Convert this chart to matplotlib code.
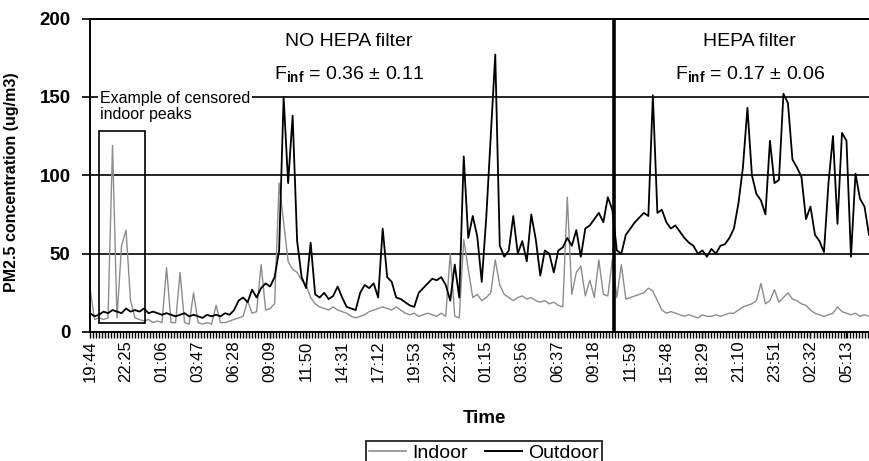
import matplotlib.pyplot as plt
import matplotlib.patches as patches
from matplotlib.lines import Line2D
import numpy as np

plt.rcParams['font.family'] = ['Liberation Sans', 'DejaVu Sans']
plt.rcParams['mathtext.fontset'] = 'custom'
plt.rcParams['mathtext.rm'] = 'Liberation Sans'
plt.rcParams['mathtext.bf'] = 'Liberation Sans:bold'

# Time labels (every 8th sample on the category axis)
time_labels = ['19:44', '22:25', '01:06', '03:47', '06:28', '09:09', '11:50',
               '14:31', '17:12', '19:53', '22:34', '01:15', '03:56', '06:37',
               '09:18', '11:59', '15:48', '18:29', '21:10', '23:51', '02:32',
               '05:13']
label_step = 8

# PM2.5 outdoor (ug/m3)
outdoor = [
    12, 10, 11, 13, 12, 14, 13, 12, 15, 13,
    14, 13, 15, 12, 13, 12, 11, 12, 11, 10,
    11, 12, 10, 11, 10, 9, 11, 10, 11, 10,
    12, 11, 14, 20, 22, 19, 27, 22, 28, 31,
    29, 35, 52, 150, 95, 138, 58, 35, 28, 57,
    24, 22, 25, 21, 23, 29, 22, 16, 15, 14,
    25, 30, 28, 31, 22, 66, 35, 32, 22, 21,
    19, 17, 16, 25, 28, 31, 34, 33, 35, 30,
    20, 43, 22, 112, 60, 74, 61, 32, 73, 125,
    177, 55, 48, 52, 74, 50, 58, 45, 75, 59,
    36, 52, 50, 38, 52, 54, 60, 55, 65, 48,
    66, 68, 72, 76, 70, 86, 78, 52, 50, 62,
    66, 70, 73, 76, 74, 151, 76, 78, 70, 66,
    68, 64, 60, 57, 55, 50, 52, 48, 53, 50,
    55, 56, 60, 66, 82, 105, 143, 100, 88, 84,
    75, 122, 95, 97, 152, 146, 110, 105, 99, 72,
    80, 62, 58, 51, 95, 125, 69, 127, 122, 48,
    101, 85, 80, 62,
]

# PM2.5 indoor (ug/m3)
indoor = [
    28, 8, 9, 8, 9, 119, 9, 55, 65, 20,
    9, 8, 7, 8, 6, 7, 6, 41, 6, 6,
    38, 6, 5, 25, 6, 5, 6, 5, 17, 6,
    6, 7, 8, 9, 10, 20, 12, 13, 43, 14,
    15, 18, 95, 70, 45, 40, 38, 33, 30, 22,
    18, 16, 15, 14, 16, 14, 13, 12, 10, 9,
    10, 11, 13, 14, 15, 16, 15, 14, 16, 14,
    12, 11, 12, 10, 11, 12, 11, 10, 12, 10,
    50, 10, 9, 59, 40, 22, 24, 20, 22, 25,
    46, 30, 24, 22, 20, 22, 23, 21, 22, 20,
    19, 20, 18, 19, 17, 16, 86, 24, 38, 42,
    23, 33, 22, 46, 24, 23, 46, 22, 43, 21,
    22, 23, 24, 25, 28, 26, 20, 14, 12, 13,
    12, 11, 10, 11, 10, 9, 11, 10, 10, 11,
    10, 11, 12, 12, 14, 16, 17, 18, 20, 31,
    18, 20, 27, 19, 22, 25, 21, 20, 18, 17,
    14, 12, 11, 10, 11, 12, 16, 13, 12, 11,
    12, 10, 11, 10,
]

idx = np.arange(len(outdoor))

fig = plt.figure(figsize=(8.69, 4.61), dpi=100)
ax = fig.add_axes([90 / 869, 129 / 461, 779 / 869, 313.5 / 461])

ax.plot(idx, indoor, color='#8c8c8c', lw=1.0)
ax.plot(idx, outdoor, color='black', lw=1.3)

ax.set_xlim(0, 173)
ax.set_ylim(0, 200)
ax.set_yticks([0, 50, 100, 150, 200])
ax.yaxis.grid(True, color='black', lw=1.2)

ax.set_xticks(np.arange(len(time_labels)) * label_step)
ax.set_xticklabels(time_labels, rotation=90)
ax.set_xticks(np.arange(0, 173, 0.6667), minor=True)

ax.spines['right'].set_visible(False)
for side in ['left', 'bottom', 'top']:
    ax.spines[side].set_linewidth(1.4)

ax.tick_params(axis='y', direction='out', length=6, width=1.2, labelsize=13.5, pad=8)
for lbl in ax.get_yticklabels():
    lbl.set_fontweight('bold')
ax.tick_params(axis='x', which='major', direction='out', length=4, width=1, labelsize=12, pad=2)
ax.tick_params(axis='x', which='minor', direction='out', length=4, width=1)

ax.set_ylabel('PM2.5 concentration (ug/m3)', fontsize=11.5, fontweight='bold')
ax.yaxis.set_label_coords(-0.091, 0.478)
fig.text(484 / 869, 1 - 418 / 461, 'Time', ha='center', va='center',
         fontsize=13.5, fontweight='bold')

# period separator and censored-peak box
ax.axvline(116.4, color='black', lw=2.6)
ax.add_patch(patches.Rectangle((2.0, 5.7), 10.2, 122.3, fill=False,
                               edgecolor='black', lw=1.2, zorder=4))

ax.text(57.5, 185.6, 'NO HEPA filter', ha='center', va='center', fontsize=14)
ax.text(57.5, 164, r'F$_{\mathbf{inf}}$ = 0.36 ± 0.11', ha='center', va='center', fontsize=14)
ax.text(146.5, 185.6, 'HEPA filter', ha='center', va='center', fontsize=14)
ax.text(146.5, 164, r'F$_{\mathbf{inf}}$ = 0.17 ± 0.06', ha='center', va='center', fontsize=14)
ax.text(2.2, 144, 'Example of censored\nindoor peaks', ha='left', va='center',
        fontsize=11.5, linespacing=1.1, zorder=5,
        bbox=dict(facecolor='white', edgecolor='none', pad=1))

handles = [Line2D([], [], color='#8c8c8c', lw=1.2),
           Line2D([], [], color='black', lw=1.4)]
leg = fig.legend(handles, ['Indoor', 'Outdoor'], ncol=2, loc='upper center',
                 bbox_to_anchor=(484 / 869, 1 - 441 / 461), borderaxespad=0,
                 fontsize=14, frameon=True, fancybox=False, edgecolor='black',
                 handlelength=1.9, handletextpad=0.3, columnspacing=0.9,
                 borderpad=0.15)
leg.get_frame().set_linewidth(1.4)

fig.savefig('out.png', dpi=100)
